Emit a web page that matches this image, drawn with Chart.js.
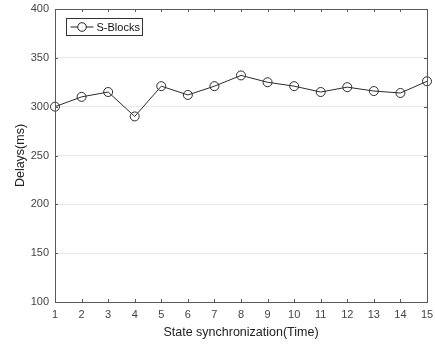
<!DOCTYPE html>
<html>
<head>
<meta charset="utf-8">
<script src="https://cdn.jsdelivr.net/npm/chart.js@4/dist/chart.umd.min.js"></script>
<style>
  html, body { margin: 0; padding: 0; background: #fff; }
  #wrap { width: 435px; height: 344px; position: relative; }
</style>
</head>
<body>
<div id="wrap"><canvas id="delayChart"></canvas></div>
<script>
// State synchronization rounds and measured delays
const rounds = [1, 2, 3, 4, 5, 6, 7, 8, 9, 10, 11, 12, 13, 14, 15];
const sBlocksDelays = [300, 310, 315, 290, 321, 312, 321, 332, 325, 321, 315, 320, 316, 314, 326];
const yTicks = [100, 150, 200, 250, 300, 350, 400];
const seriesLabel = 'S-Blocks';

const axisColor = '#5a5a5a';
const textColor = '#444';
const fontFamily = '"Liberation Sans", Arial, sans-serif';

// Draw the MATLAB-like box with inward ticks on all four sides
const boxPlugin = {
    id: 'matlabBox',
    afterDraw(chart) {
        const ctx = chart.ctx;
        const a = chart.chartArea;
        const xs = chart.scales.x;
        const ys = chart.scales.y;
        ctx.save();
        ctx.strokeStyle = axisColor;
        ctx.lineWidth = 1;
        ctx.strokeRect(Math.round(a.left) + 0.5, Math.round(a.top) + 0.5,
            Math.round(a.right - a.left), Math.round(a.bottom - a.top));
        ctx.beginPath();
        rounds.forEach(v => {
            const px = Math.round(xs.getPixelForValue(v)) + 0.5;
            ctx.moveTo(px, a.bottom);
            ctx.lineTo(px, a.bottom - 3);
            ctx.moveTo(px, a.top);
            ctx.lineTo(px, a.top + 3);
        });
        yTicks.forEach(v => {
            const py = Math.round(ys.getPixelForValue(v)) + 0.5;
            ctx.moveTo(a.left, py);
            ctx.lineTo(a.left + 3, py);
            ctx.moveTo(a.right, py);
            ctx.lineTo(a.right - 3, py);
        });
        ctx.stroke();
        ctx.restore();
    }
};

// Legend box drawn inside the plot area, top-left
const legendPlugin = {
    id: 'insideLegend',
    afterDraw(chart) {
        const ctx = chart.ctx;
        const a = chart.chartArea;
        const x = Math.round(a.left) + 11.5;
        const y = Math.round(a.top) + 9.5;
        const w = 76;
        const h = 17;
        ctx.save();
        ctx.fillStyle = '#fff';
        ctx.fillRect(x, y, w, h);
        ctx.strokeStyle = '#333';
        ctx.lineWidth = 1;
        ctx.strokeRect(x, y, w, h);
        const my = y + h / 2;
        ctx.strokeStyle = '#222';
        ctx.beginPath();
        ctx.moveTo(x + 4, my);
        ctx.lineTo(x + 27, my);
        ctx.stroke();
        ctx.beginPath();
        ctx.arc(x + 15.5, my, 4.3, 0, Math.PI * 2);
        ctx.fillStyle = '#fff';
        ctx.fill();
        ctx.stroke();
        ctx.fillStyle = '#111';
        ctx.font = '11px ' + fontFamily;
        ctx.textBaseline = 'middle';
        ctx.fillText(seriesLabel, x + 30, my + 0.5);
        ctx.restore();
    }
};

const ctx = document.getElementById('delayChart').getContext('2d');
new Chart(ctx, {
    type: 'line',
    data: {
        datasets: [{
            label: seriesLabel,
            data: rounds.map((r, i) => ({ x: r, y: sBlocksDelays[i] })),
            borderColor: '#2b2b2b',
            borderWidth: 1,
            pointRadius: 4.5,
            pointBorderWidth: 1,
            pointBackgroundColor: 'rgba(255,255,255,0)',
            pointBorderColor: '#2b2b2b',
            tension: 0,
            clip: false
        }]
    },
    options: {
        responsive: true,
        maintainAspectRatio: false,
        animation: false,
        layout: { padding: { left: 13, right: 8, top: 9, bottom: 4 } },
        plugins: {
            legend: { display: false },
            tooltip: { enabled: false }
        },
        scales: {
            x: {
                type: 'linear',
                min: 1,
                max: 15,
                afterBuildTicks: scale => { scale.ticks = rounds.map(v => ({ value: v })); },
                afterFit: scale => {
                    scale.height = 38;
                    scale.paddingLeft = 0;
                    scale.paddingRight = 0;
                },
                grid: { display: false, drawTicks: false },
                border: { display: false },
                ticks: {
                    color: textColor,
                    font: { family: fontFamily, size: 11 },
                    padding: 6,
                    maxRotation: 0,
                    autoSkip: false
                },
                title: {
                    display: true,
                    text: 'State synchronization(Time)',
                    color: '#222',
                    font: { family: fontFamily, size: 12.5 },
                    padding: 0
                }
            },
            y: {
                min: 100,
                max: 400,
                afterBuildTicks: scale => { scale.ticks = yTicks.map(v => ({ value: v })); },
                afterFit: scale => {
                    scale.width = 42;
                    scale.paddingTop = 0;
                    scale.paddingBottom = 0;
                },
                grid: { color: '#e8e8e8', drawTicks: false },
                border: { display: false },
                ticks: {
                    color: textColor,
                    font: { family: fontFamily, size: 11 },
                    padding: 6
                },
                title: {
                    display: true,
                    text: 'Delays(ms)',
                    color: '#222',
                    font: { family: fontFamily, size: 12.5 },
                    padding: 0
                }
            }
        }
    },
    plugins: [boxPlugin, legendPlugin]
});
</script>
</body>
</html>
